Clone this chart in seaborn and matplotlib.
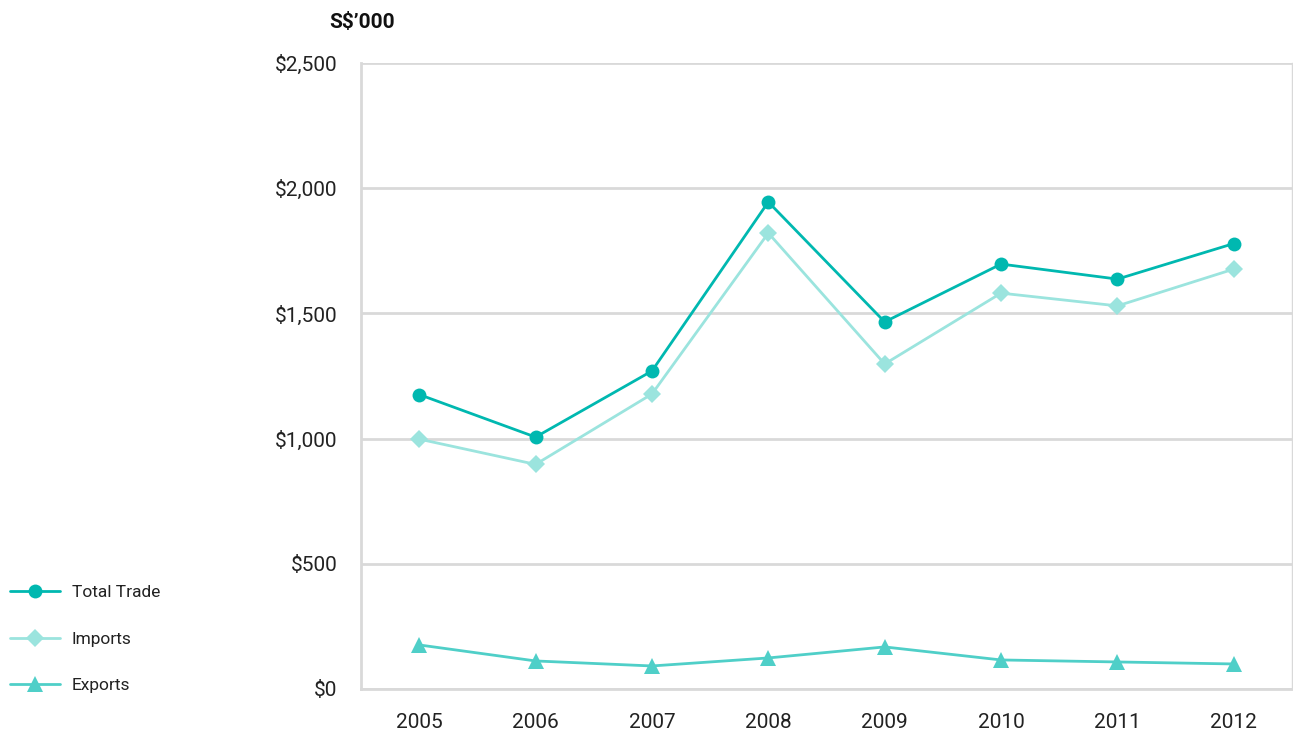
import matplotlib
matplotlib.use("Agg")
import matplotlib.pyplot as plt
import seaborn as sns
import pandas as pd
from matplotlib.ticker import FixedLocator, FuncFormatter
from matplotlib.lines import Line2D

years = ["2005", "2006", "2007", "2008", "2009", "2010", "2011", "2012"]
total_trade = [1176, 1006, 1270, 1945, 1466, 1697, 1637, 1779]
imports = [998, 897, 1178, 1821, 1298, 1581, 1530, 1677]
exports = [176, 112, 92, 124, 168, 116, 108, 100]
series_names = ["Total Trade", "Imports", "Exports"]
y_ticks = [0, 500, 1000, 1500, 2000, 2500]

colors = {"Total Trade": "#00B8B0", "Imports": "#9BE4DE", "Exports": "#4FCFC8"}
markers = {"Total Trade": "o", "Imports": "D", "Exports": "^"}
msizes = {"Total Trade": 10, "Imports": 9, "Exports": 11}

sns.set_theme(style="white")
plt.rcParams["font.family"] = ["Roboto", "DejaVu Sans"]

df = pd.DataFrame({
    "Year": years * 3,
    "Value": total_trade + imports + exports,
    "Series": sum([[s] * len(years) for s in series_names], []),
})

fig = plt.figure(figsize=(12.93, 7.32), dpi=100)
ax = fig.add_axes([361 / 1293, 1 - 689 / 732, 931 / 1293, 626 / 732])

for s in ["Exports", "Imports", "Total Trade"]:
    sub = df[df["Series"] == s]
    sns.lineplot(data=sub, x="Year", y="Value", ax=ax, color=colors[s],
                 marker=markers[s], markersize=msizes[s], markeredgewidth=0,
                 linewidth=2.0, legend=False, sort=False)

ax.set_xlim(-0.5, 7.5)
ax.set_ylim(0, 2500)
ax.set_xlabel("")
ax.set_ylabel("")

ax.yaxis.set_major_locator(FixedLocator(y_ticks))
ax.yaxis.set_major_formatter(FuncFormatter(lambda v, p: f"${int(v):,}"))
ax.grid(axis="y", color="#D9D9D9", linewidth=2)
ax.grid(axis="x", visible=False)
ax.set_axisbelow(True)

ax.set_xticks(range(len(years)))
ax.set_xticklabels(years)
ax.set_xticks([i + 0.5 for i in range(len(years) - 1)], minor=True)
ax.tick_params(axis="x", which="major", length=0, pad=17, labelsize=15, labelcolor="#222222")
ax.tick_params(axis="x", which="minor", direction="in", length=10, width=1.8, color="#D4D4D4")
ax.tick_params(axis="y", length=0, pad=17, labelsize=15, labelcolor="#222222")

for side in ["left", "bottom"]:
    ax.spines[side].set_color("#D9D9D9")
    ax.spines[side].set_linewidth(2)
ax.spines["right"].set_color("#D9D9D9")
ax.spines["right"].set_linewidth(1)
ax.spines["top"].set_visible(False)

handles = [Line2D([], [], color=colors[s], marker=markers[s], markersize=msizes[s],
                  markeredgewidth=0, linewidth=2.0) for s in series_names]
fig.legend(handles, series_names, loc="center left",
           bbox_to_anchor=(10 / 1293, 1 - 639 / 732), frameon=False,
           borderaxespad=0, borderpad=0,
           fontsize=12.5, handlelength=2.88, handletextpad=0.69, labelspacing=1.8,
           labelcolor="#222222")

fig.text(362 / 1293, 1 - 22 / 732, "S$\u2019000", ha="center", va="center",
         fontsize=15, fontweight="bold", color="#111111")

fig.savefig("out.png", dpi=100)
